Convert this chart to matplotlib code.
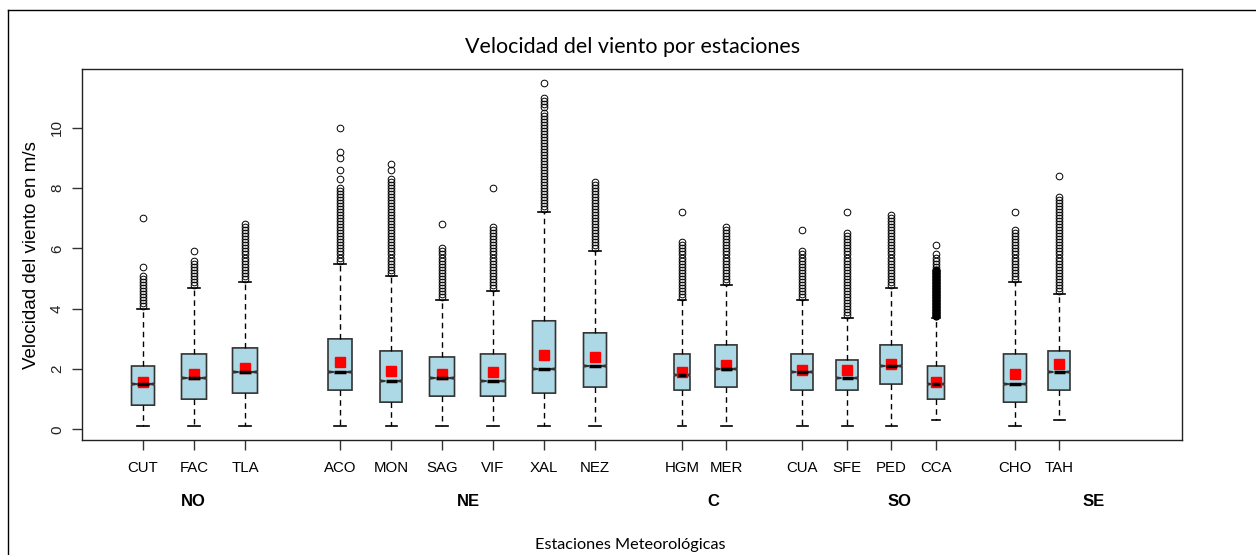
import matplotlib.pyplot as plt
from matplotlib.lines import Line2D

# Datos (m/s)
estaciones = ['CUT', 'FAC', 'TLA', 'ACO', 'MON', 'SAG', 'VIF', 'XAL', 'NEZ',
              'HGM', 'MER', 'CUA', 'SFE', 'PED', 'CCA', 'CHO', 'TAH']
q1 = [0.8, 1.0, 1.2, 1.3, 0.9, 1.1, 1.1, 1.2, 1.4, 1.3, 1.4, 1.3, 1.3, 1.5, 1.0, 0.9, 1.3]
mediana = [1.5, 1.7, 1.9, 1.9, 1.6, 1.7, 1.6, 2.0, 2.1, 1.8, 2.0, 1.9, 1.7, 2.1, 1.5, 1.5, 1.9]
q3 = [2.1, 2.5, 2.7, 3.0, 2.6, 2.4, 2.5, 3.6, 3.2, 2.5, 2.8, 2.5, 2.3, 2.8, 2.1, 2.5, 2.6]
bigote_inf = [0.1, 0.1, 0.1, 0.1, 0.1, 0.1, 0.1, 0.1, 0.1, 0.1, 0.1, 0.1, 0.1, 0.1, 0.3, 0.1, 0.3]
bigote_sup = [4.0, 4.7, 4.9, 5.5, 5.1, 4.3, 4.6, 7.2, 5.9, 4.3, 4.8, 4.3, 3.7, 4.7, 3.7, 4.9, 4.5]
media = [1.57, 1.83, 2.02, 2.24, 1.93, 1.85, 1.90, 2.47, 2.40, 1.89, 2.12, 1.98, 1.98, 2.16, 1.58, 1.83, 2.18]

atipicos = [
    [4.1, 4.2, 4.3, 4.4, 4.5, 4.6, 4.7, 4.8, 4.9, 5.0, 5.1, 5.4, 7.0],
    [4.8, 4.9, 5.0, 5.1, 5.2, 5.3, 5.4, 5.5, 5.6, 5.9],
    [5.0, 5.1, 5.2, 5.3, 5.4, 5.5, 5.6, 5.7, 5.8, 5.9, 6.0, 6.1, 6.2, 6.3, 6.4, 6.5, 6.6, 6.7, 6.8],
    [5.6, 5.7, 5.8, 5.9, 6.0, 6.1, 6.2, 6.3, 6.4, 6.5, 6.6, 6.7, 6.8, 6.9, 7.0, 7.1, 7.2, 7.3,
     7.4, 7.5, 7.6, 7.7, 7.8, 7.9, 8.0, 8.3, 8.6, 9.0, 9.2, 10.0],
    [5.2, 5.3, 5.4, 5.5, 5.6, 5.7, 5.8, 5.9, 6.0, 6.1, 6.2, 6.3, 6.4, 6.5, 6.6, 6.7, 6.8, 6.9,
     7.0, 7.1, 7.2, 7.3, 7.4, 7.5, 7.6, 7.7, 7.8, 7.9, 8.0, 8.1, 8.2, 8.3, 8.6, 8.8],
    [4.4, 4.5, 4.6, 4.7, 4.8, 4.9, 5.0, 5.1, 5.2, 5.3, 5.4, 5.5, 5.6, 5.7, 5.8, 5.9, 6.0, 6.8],
    [4.7, 4.8, 4.9, 5.0, 5.1, 5.2, 5.3, 5.4, 5.5, 5.6, 5.7, 5.8, 5.9, 6.0, 6.1, 6.2, 6.3, 6.4,
     6.5, 6.6, 6.7, 8.0],
    [7.3, 7.4, 7.5, 7.6, 7.7, 7.8, 7.9, 8.0, 8.1, 8.2, 8.3, 8.4, 8.5, 8.6, 8.7, 8.8, 8.9, 9.0,
     9.1, 9.2, 9.3, 9.4, 9.5, 9.6, 9.7, 9.8, 9.9, 10.0, 10.1, 10.2, 10.3, 10.4, 10.5, 10.7,
     10.8, 10.9, 11.0, 11.5],
    [6.0, 6.1, 6.2, 6.3, 6.4, 6.5, 6.6, 6.7, 6.8, 6.9, 7.0, 7.1, 7.2, 7.3, 7.4, 7.5, 7.6, 7.7,
     7.8, 7.9, 8.0, 8.1, 8.2],
    [4.4, 4.5, 4.6, 4.7, 4.8, 4.9, 5.0, 5.1, 5.2, 5.3, 5.4, 5.5, 5.6, 5.7, 5.8, 5.9, 6.0, 6.1,
     6.2, 7.2],
    [4.9, 5.0, 5.1, 5.2, 5.3, 5.4, 5.5, 5.6, 5.7, 5.8, 5.9, 6.0, 6.1, 6.2, 6.3, 6.4, 6.5, 6.6, 6.7],
    [4.4, 4.5, 4.6, 4.7, 4.8, 4.9, 5.0, 5.1, 5.2, 5.3, 5.4, 5.5, 5.6, 5.7, 5.8, 5.9, 6.6],
    [3.8, 3.9, 4.0, 4.1, 4.2, 4.3, 4.4, 4.5, 4.6, 4.7, 4.8, 4.9, 5.0, 5.1, 5.2, 5.3, 5.4, 5.5,
     5.6, 5.7, 5.8, 5.9, 6.0, 6.1, 6.2, 6.3, 6.4, 6.5, 7.2],
    [4.8, 4.9, 5.0, 5.1, 5.2, 5.3, 5.4, 5.5, 5.6, 5.7, 5.8, 5.9, 6.0, 6.1, 6.2, 6.3, 6.4, 6.5,
     6.6, 6.7, 6.8, 6.9, 7.0, 7.1],
    [3.75, 3.8, 3.85, 3.9, 3.95, 4.0, 4.05, 4.1, 4.15, 4.2, 4.25, 4.3, 4.35, 4.4, 4.45, 4.5,
     4.55, 4.6, 4.65, 4.7, 4.75, 4.8, 4.85, 4.9, 4.95, 5.0, 5.05, 5.1, 5.15, 5.2, 5.25, 5.3,
     5.4, 5.5, 5.6, 5.7, 5.8, 6.1],
    [5.0, 5.1, 5.2, 5.3, 5.4, 5.5, 5.6, 5.7, 5.8, 5.9, 6.0, 6.1, 6.2, 6.3, 6.4, 6.5, 6.6, 7.2],
    [4.6, 4.7, 4.8, 4.9, 5.0, 5.1, 5.2, 5.3, 5.4, 5.5, 5.6, 5.7, 5.8, 5.9, 6.0, 6.1, 6.2, 6.3,
     6.4, 6.5, 6.6, 6.7, 6.8, 6.9, 7.0, 7.1, 7.2, 7.3, 7.4, 7.5, 7.6, 7.7, 8.4],
]
regiones = ['NO', 'NE', 'C', 'SO', 'SE']

# posiciones y anchos (en pixeles de la imagen original)
posiciones = [143, 194, 245, 340, 391, 442, 493, 544, 595, 682, 726, 802, 847, 891, 936, 1015, 1059]
anchos = [23, 25, 25, 24, 22, 25, 25, 23, 23, 16, 22, 22, 22, 22, 17, 23, 22]
pos_regiones = [193, 468, 713, 900, 1094]

W, H = 1256, 555
fig = plt.figure(figsize=(W / 100, H / 100), dpi=100)
ax = fig.add_axes([82 / W, (H - 440) / H, 1100 / W, 371 / H])

stats = []
for i in range(len(estaciones)):
    stats.append(dict(med=mediana[i], q1=q1[i], q3=q3[i],
                      whislo=bigote_inf[i], whishi=bigote_sup[i],
                      fliers=atipicos[i],
                      cilo=mediana[i] - 0.03, cihi=mediana[i] + 0.03,
                      label=estaciones[i]))

ax.bxp(stats, positions=posiciones, widths=anchos, shownotches=True, patch_artist=True,
       boxprops=dict(facecolor='#add8e6', edgecolor='#333333', linewidth=1.2),
       medianprops=dict(color='black', linewidth=2.5, solid_capstyle='butt'),
       whiskerprops=dict(color='black', linestyle=(0, (4, 3)), linewidth=1),
       capprops=dict(color='black', linewidth=1.2),
       flierprops=dict(marker='o', markerfacecolor='none', markeredgecolor='black',
                       markersize=4.8, markeredgewidth=0.7))

# en CCA los atipicos estan tan juntos que se ven como una barra negra
i_cca = estaciones.index('CCA')
densos = [v for v in atipicos[i_cca] if v <= 5.3]
ax.plot([posiciones[i_cca]] * len(densos), densos, linestyle='none', marker='o',
        color='black', markersize=4.8)

ax.plot(posiciones, media, linestyle='none', marker='s', color='red', markersize=6.5)

ax.set_xlim(82, 1182)
ax.set_ylim(-0.356, 11.956)
ax.set_yticks([0, 2, 4, 6, 8, 10])
ax.set_xticks(posiciones)
ax.set_xticklabels(estaciones, family=['Liberation Sans', 'DejaVu Sans'], fontsize=10.8)
for lab in ax.get_yticklabels():
    lab.set_rotation(90)
    lab.set_va('center')
    lab.set_family(['Liberation Sans', 'DejaVu Sans'])
    lab.set_fontsize(11)
    lab.set_color('#222222')
ax.tick_params(length=7, width=1, color='#333333', pad=6)
ax.tick_params(axis='x', pad=8)
for s in ax.spines.values():
    s.set_color('#222222')
    s.set_linewidth(1)

# etiquetas de regiones
for x, r in zip(pos_regiones, regiones):
    ax.text(x, -(502 - 440) / 371, r, transform=ax.get_xaxis_transform(),
            ha='center', va='center', fontsize=12, fontweight='bold',
            family=['Liberation Sans', 'DejaVu Sans'])

fig.text(633 / W, 1 - 47 / H, 'Velocidad del viento por estaciones', ha='center', va='center',
         fontsize=15.5, family=['Lato', 'DejaVu Sans'])
fig.text(32 / W, 1 - 255 / H, 'Velocidad del viento en m/s', rotation=90, ha='center', va='center',
         fontsize=13.5, family=['Liberation Sans', 'DejaVu Sans'])
fig.text(630 / W, 1 - 545 / H, 'Estaciones Meteorológicas', ha='center', va='center',
         fontsize=11.7, family=['Lato', 'DejaVu Sans'])

# marco exterior (solo borde izquierdo y superior visibles)
fig.add_artist(Line2D([8 / W, 8 / W], [0, 1 - 10 / H], transform=fig.transFigure,
                      color='black', linewidth=1))
fig.add_artist(Line2D([8 / W, 1], [1 - 10 / H, 1 - 10 / H], transform=fig.transFigure,
                      color='black', linewidth=1))

fig.savefig('out.png', dpi=100)
